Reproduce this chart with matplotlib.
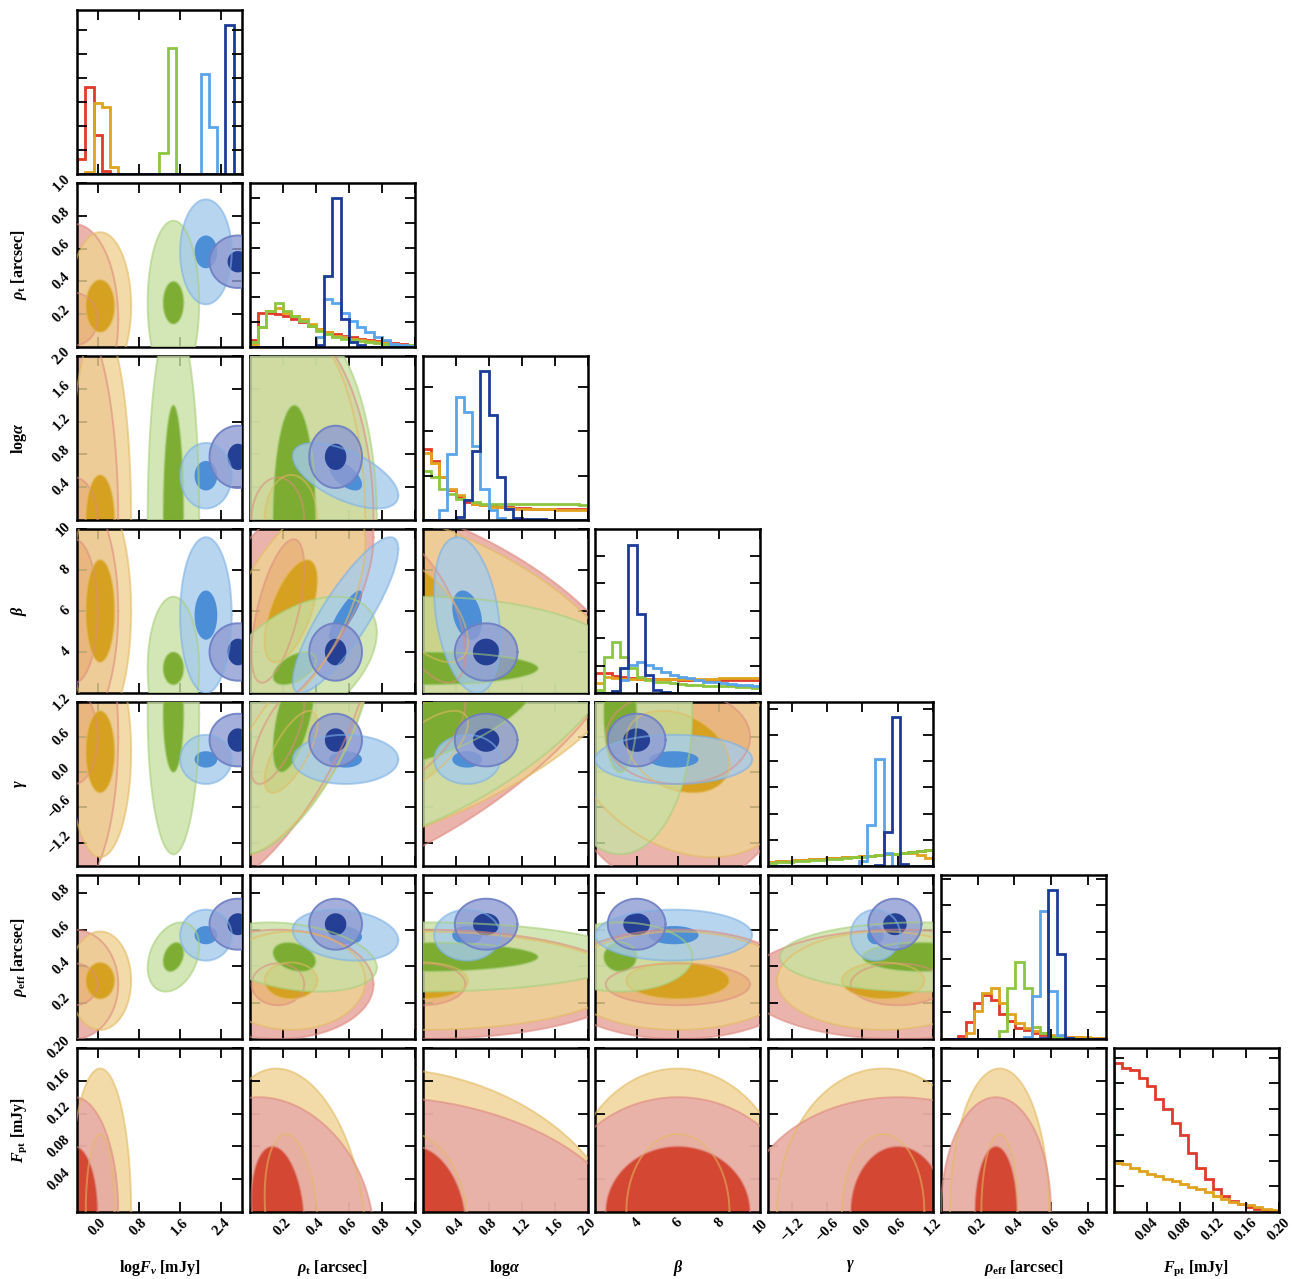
import numpy as np
import matplotlib
matplotlib.use("Agg")
import matplotlib.pyplot as plt
from matplotlib.colors import to_rgb
from matplotlib.ticker import FixedLocator, NullFormatter

plt.rcParams['font.family'] = ['Liberation Serif', 'DejaVu Serif']
plt.rcParams['font.weight'] = 'bold'
plt.rcParams['mathtext.fontset'] = 'custom'
plt.rcParams['mathtext.rm'] = 'Liberation Serif:bold'
plt.rcParams['mathtext.it'] = 'Liberation Serif:italic:bold'
plt.rcParams['mathtext.bf'] = 'Liberation Serif:bold'

# ---------------- data ----------------
param_labels = ['log$F_{\\nu}$ [mJy]', '$\\rho_{\\mathrm{t}}$ [arcsec]', 'log$\\alpha$',
                '$\\beta$', '$\\gamma$', '$\\rho_{\\mathrm{eff}}$ [arcsec]', '$F_{\\mathrm{pt}}$ [mJy]']
param_ranges = [(-0.4, 2.8), (0.0, 1.0), (0.0, 2.0), (2.0, 10.0), (-1.6, 1.2), (0.0, 0.9), (0.0, 0.2)]
param_ticks = [[0.0, 0.8, 1.6, 2.4], [0.2, 0.4, 0.6, 0.8, 1.0], [0.4, 0.8, 1.2, 1.6, 2.0],
               [4, 6, 8, 10], [-1.2, -0.6, 0.0, 0.6, 1.2], [0.2, 0.4, 0.6, 0.8],
               [0.04, 0.08, 0.12, 0.16, 0.20]]
param_ticklabels = [['0.0', '0.8', '1.6', '2.4'], ['0.2', '0.4', '0.6', '0.8', '1.0'],
                    ['0.4', '0.8', '1.2', '1.6', '2.0'], ['4', '6', '8', '10'],
                    ['\u22121.2', '\u22120.6', '0.0', '0.6', '1.2'], ['0.2', '0.4', '0.6', '0.8'],
                    ['0.04', '0.08', '0.12', '0.16', '0.20']]
n_bins = 20
series_names = ['red', 'orange', 'green', 'lblue', 'dblue']

# 1D marginal histograms (height as fraction of the panel), 20 bins across each range
h_logF = dict(
    red=[0.09, 0.53, 0.24, 0.02, 0, 0, 0, 0, 0, 0, 0, 0, 0, 0, 0, 0, 0, 0, 0, 0],
    orange=[0, 0.01, 0.43, 0.41, 0.045, 0, 0, 0, 0, 0, 0, 0, 0, 0, 0, 0, 0, 0, 0, 0],
    green=[0, 0, 0, 0, 0, 0, 0, 0, 0, 0, 0.13, 0.77, 0, 0, 0, 0, 0, 0, 0, 0],
    lblue=[0, 0, 0, 0, 0, 0, 0, 0, 0, 0, 0, 0, 0, 0, 0, 0.61, 0.285, 0, 0, 0],
    dblue=[0, 0, 0, 0, 0, 0, 0, 0, 0, 0, 0, 0, 0, 0, 0, 0, 0, 0, 0.91, 0])
h_rhot = dict(
    red=[0.04, 0.21, 0.21, 0.20, 0.19, 0.17, 0.15, 0.13, 0.11, 0.09, 0.08, 0.07, 0.06, 0.05, 0.04, 0.035, 0.03, 0.025, 0.02, 0.015],
    orange=[0.02, 0.12, 0.22, 0.24, 0.21, 0.19, 0.17, 0.14, 0.11, 0.09, 0.07, 0.06, 0.05, 0.04, 0.035, 0.03, 0.025, 0.02, 0.015, 0.01],
    green=[0.03, 0.12, 0.22, 0.27, 0.22, 0.19, 0.16, 0.13, 0.10, 0.08, 0.06, 0.05, 0.04, 0.035, 0.03, 0.025, 0.02, 0.015, 0.01, 0.01],
    lblue=[0, 0, 0, 0, 0, 0, 0, 0, 0.06, 0.29, 0.27, 0.21, 0.16, 0.12, 0.09, 0.06, 0.04, 0.02, 0.01, 0.005],
    dblue=[0, 0, 0, 0, 0, 0, 0, 0, 0.01, 0.43, 0.91, 0.17, 0.03, 0.01, 0, 0, 0, 0, 0, 0])
h_logalpha = dict(
    red=[0.43, 0.36, 0.26, 0.18, 0.14, 0.11, 0.10, 0.09, 0.085, 0.08, 0.08, 0.075, 0.075, 0.07, 0.07, 0.07, 0.07, 0.07, 0.07, 0.07],
    orange=[0.41, 0.35, 0.26, 0.19, 0.15, 0.12, 0.10, 0.09, 0.08, 0.08, 0.075, 0.07, 0.07, 0.065, 0.065, 0.065, 0.06, 0.06, 0.06, 0.06],
    green=[0.30, 0.26, 0.19, 0.16, 0.13, 0.12, 0.11, 0.10, 0.10, 0.10, 0.10, 0.10, 0.10, 0.10, 0.10, 0.10, 0.095, 0.095, 0.095, 0.09],
    lblue=[0, 0, 0.06, 0.40, 0.75, 0.66, 0.45, 0.19, 0.06, 0.01, 0, 0, 0, 0, 0, 0, 0, 0, 0, 0],
    dblue=[0, 0, 0, 0, 0.02, 0.12, 0.42, 0.91, 0.64, 0.26, 0.07, 0.015, 0.005, 0.005, 0.005, 0, 0, 0, 0, 0])
h_beta = dict(
    red=[0.12, 0.12, 0.105, 0.095, 0.09, 0.088, 0.086, 0.085, 0.084, 0.083, 0.082, 0.082, 0.081, 0.081, 0.08, 0.08, 0.08, 0.08, 0.08, 0.08],
    orange=[0.06, 0.095, 0.09, 0.088, 0.086, 0.085, 0.085, 0.085, 0.085, 0.085, 0.085, 0.085, 0.086, 0.087, 0.088, 0.089, 0.09, 0.09, 0.092, 0.094],
    green=[0.02, 0.22, 0.31, 0.22, 0.15, 0.10, 0.08, 0.07, 0.065, 0.06, 0.055, 0.05, 0.05, 0.045, 0.045, 0.04, 0.04, 0.035, 0.035, 0.03],
    lblue=[0, 0, 0, 0.08, 0.17, 0.19, 0.17, 0.15, 0.13, 0.11, 0.10, 0.09, 0.08, 0.07, 0.065, 0.06, 0.055, 0.05, 0.05, 0.045],
    dblue=[0, 0, 0.01, 0.15, 0.90, 0.48, 0.11, 0.02, 0.005, 0, 0, 0, 0, 0, 0, 0, 0, 0, 0, 0])
h_gamma = dict(
    red=[0.027, 0.029, 0.033, 0.035, 0.037, 0.041, 0.043, 0.047, 0.05, 0.052, 0.057, 0.061, 0.063, 0.068, 0.073, 0.075, 0.081, 0.085, 0.09, 0.10],
    orange=[0.025, 0.028, 0.03, 0.034, 0.036, 0.04, 0.044, 0.046, 0.05, 0.055, 0.057, 0.061, 0.064, 0.067, 0.071, 0.074, 0.078, 0.08, 0.07, 0.047],
    green=[0.02, 0.022, 0.026, 0.028, 0.031, 0.034, 0.037, 0.042, 0.045, 0.05, 0.055, 0.057, 0.062, 0.066, 0.071, 0.074, 0.08, 0.086, 0.09, 0.10],
    lblue=[0, 0, 0, 0, 0, 0, 0, 0, 0, 0, 0, 0.03, 0.25, 0.65, 0.08, 0, 0, 0, 0, 0],
    dblue=[0, 0, 0, 0, 0, 0, 0, 0, 0, 0, 0, 0, 0, 0.005, 0.21, 0.91, 0.01, 0, 0, 0])
h_rhoeff = dict(
    red=[0, 0, 0.02, 0.105, 0.22, 0.27, 0.24, 0.155, 0.11, 0.065, 0.055, 0.035, 0.025, 0.02, 0.015, 0.012, 0.01, 0.008, 0.006, 0.005],
    orange=[0, 0, 0, 0.035, 0.17, 0.28, 0.31, 0.22, 0.15, 0.095, 0.065, 0.05, 0.035, 0.025, 0.02, 0.015, 0.012, 0.01, 0.008, 0.006],
    green=[0, 0, 0, 0, 0, 0, 0, 0.05, 0.31, 0.47, 0.31, 0.075, 0.035, 0.015, 0.005, 0, 0, 0, 0, 0],
    lblue=[0, 0, 0, 0, 0, 0, 0, 0, 0, 0, 0.01, 0.26, 0.78, 0.29, 0.025, 0.005, 0, 0, 0, 0],
    dblue=[0, 0, 0, 0, 0, 0, 0, 0, 0, 0, 0, 0, 0.005, 0.91, 0.52, 0.005, 0, 0, 0, 0])
h_fpt = dict(
    red=[0.91, 0.88, 0.865, 0.82, 0.77, 0.69, 0.63, 0.54, 0.47, 0.36, 0.27, 0.20, 0.14, 0.10, 0.07, 0.05, 0.03, 0.02, 0.01, 0.006],
    orange=[0.30, 0.29, 0.27, 0.25, 0.23, 0.22, 0.20, 0.19, 0.17, 0.15, 0.14, 0.12, 0.10, 0.08, 0.06, 0.05, 0.04, 0.03, 0.02, 0.01])
hists = [h_logF, h_rhot, h_logalpha, h_beta, h_gamma, h_rhoeff, h_fpt]

# 2D credible regions: centre, inner (dark) half-width, outer (light) half-width per parameter
red_center = [-0.45, 0.17, 0.0, 6.0, 0.6, 0.30, 0.0]
red_inner = [0.45, 0.16, 0.52, 3.5, 0.8, 0.115, 0.08]
red_outer = [0.85, 0.58, 2.5, 6.0, 2.6, 0.30, 0.14]
orange_center = [0.05, 0.25, 0.0, 6.0, 0.35, 0.32, 0.0]
orange_inner = [0.28, 0.16, 0.55, 2.5, 0.7, 0.10, 0.095]
orange_outer = [0.60, 0.45, 2.4, 5.5, 1.8, 0.27, 0.175]
green_center = [1.47, 0.27, 0.0, 3.2, 1.0, 0.45, None]
green_inner = [0.20, 0.13, 1.4, 0.8, 1.0, 0.08, None]
green_outer = [0.50, 0.50, 2.5, 3.5, 2.4, 0.19, None]
lblue_center = [2.10, 0.58, 0.54, 5.8, 0.22, 0.57, None]
lblue_inner = [0.22, 0.10, 0.18, 1.2, 0.14, 0.05, None]
lblue_outer = [0.50, 0.32, 0.40, 3.8, 0.42, 0.14, None]
dblue_center = [2.72, 0.52, 0.77, 4.0, 0.55, 0.63, None]
dblue_inner = [0.20, 0.065, 0.16, 0.65, 0.20, 0.06, None]
dblue_outer = [0.55, 0.16, 0.38, 1.4, 0.45, 0.14, None]
# correlations between parameter pairs (index pairs)
red_corr = {(1, 6): -0.2, (2, 6): -0.2, (1, 4): 0.7, (2, 4): 0.7, (1, 3): 0.6, (2, 3): -0.6}
orange_corr = {(1, 6): -0.2, (2, 6): -0.2, (1, 4): 0.7, (2, 4): 0.7, (3, 4): -0.3,
               (1, 3): 0.6, (2, 3): -0.6}
green_corr = {(0, 5): 0.3, (1, 3): 0.5, (1, 5): -0.3, (1, 4): 0.6, (2, 4): 0.6}
lblue_corr = {(1, 2): -0.6, (1, 3): 0.85, (1, 5): -0.2, (2, 3): -0.3}
dblue_corr = {}

regions = dict(
    red=(red_center, red_inner, red_outer, red_corr),
    orange=(orange_center, orange_inner, orange_outer, orange_corr),
    green=(green_center, green_inner, green_outer, green_corr),
    lblue=(lblue_center, lblue_inner, lblue_outer, lblue_corr),
    dblue=(dblue_center, dblue_inner, dblue_outer, dblue_corr))

# ---------------- styles ----------------
LIGHT_ALPHA = 0.8


def through_alpha(target, alpha):
    t = np.array(to_rgb(target))
    return tuple(np.clip((t - (1 - alpha)) / alpha, 0, 1))


styles = dict(
    red=dict(light='#eab4ad', dark='#d4442e', edge='#df8a80', hist='#e03a2b'),
    orange=dict(light='#f2dca9', dark='#d6a01d', edge='#e3bb62', hist='#e0a21f'),
    green=dict(light='#d3e6b6', dark='#7bab2f', edge='#a8cf7b', hist='#8cc640'),
    lblue=dict(light='#b7d5f0', dark='#4a8dd7', edge='#7db1e5', hist='#5ba4ea'),
    dblue=dict(light='#a5afdb', dark='#203c92', edge='#6d7ec3', hist='#1c3b98'),
)

hist_tick_step = [0.146, 0.151, 0.27, 0.167, 0.16, 0.163, 0.157]

W, H = 1294, 1279
fig = plt.figure(figsize=(W / 100, H / 100), dpi=100)

n = len(param_labels)
col_left = [77 + 172.8 * k for k in range(n)]
row_top = [10 + 173.0 * k for k in range(n)]
pw, ph = 165, 164


def ellipse(cx, cy, ax_, ay_, c, npts=240):
    t = np.linspace(0, 2 * np.pi, npts)
    x = cx + ax_ * np.cos(t)
    y = cy + ay_ * (c * np.cos(t) + np.sqrt(1 - c * c) * np.sin(t))
    return x, y


def style_axis(ax):
    ax.tick_params(direction='in', length=7, width=1.3, top=True, right=True,
                   labelsize=10.5, pad=3)
    for s in ax.spines.values():
        s.set_linewidth(1.8)


for i in range(n):
    for j in range(i + 1):
        x0 = col_left[j]
        y0 = row_top[i]
        ax = fig.add_axes([x0 / W, 1 - (y0 + ph) / H, pw / W, ph / H])
        style_axis(ax)
        xr = param_ranges[j]
        if i == j:
            edges = np.linspace(xr[0], xr[1], n_bins + 1)
            for name in series_names:
                if name in hists[i]:
                    ax.stairs(hists[i][name], edges, color=styles[name]['hist'], lw=2.0,
                              baseline=0)
            ax.set_ylim(0, 1)
            step = hist_tick_step[i]
            ax.yaxis.set_major_locator(FixedLocator(np.arange(step, 0.999, step)))
            ax.yaxis.set_major_formatter(NullFormatter())
        else:
            yr = param_ranges[i]
            last_row = (i == n - 1)
            order = series_names if not last_row else ['orange', 'red', 'green', 'lblue', 'dblue']
            outlines = []
            for zi, name in enumerate(order):
                cen, inn, out, corr = regions[name]
                if cen[i] is None or cen[j] is None:
                    continue
                c = corr.get((j, i), 0.0)
                st = styles[name]
                la = 0.95 if (last_row and name == 'red') else LIGHT_ALPHA
                xo, yo = ellipse(cen[j], cen[i], out[j], out[i], c)
                xi, yi = ellipse(cen[j], cen[i], inn[j], inn[i], c)
                ax.fill(xo, yo, color=through_alpha(st['light'], la),
                        alpha=la, lw=0, zorder=1 + zi)
                ax.fill(xi, yi, color=st['dark'], alpha=0.97, lw=0, zorder=1 + zi + 0.5)
                outlines.append((xo, yo, xi, yi, st['edge'], name))
            for xo, yo, xi, yi, ec, name in outlines:
                a = 0.9 if name == 'dblue' else 0.6
                ax.plot(xo, yo, color=ec, lw=1.4, alpha=a, zorder=10)
                if name not in ('dblue', 'lblue'):
                    ax.plot(xi, yi, color=ec, lw=1.4, alpha=0.55, zorder=10)
            ax.set_ylim(*yr)
            ax.set_yticks(param_ticks[i])
            if j == 0:
                ax.set_yticklabels(param_ticklabels[i], rotation=45, va='center', ha='right')
                ax.set_ylabel(param_labels[i], fontsize=11.5, fontweight='bold')
                ax.yaxis.set_label_coords(-0.29, 0.5)
            else:
                ax.yaxis.set_major_formatter(NullFormatter())
        ax.set_xlim(*xr)
        ax.set_xticks(param_ticks[j])
        if i == n - 1:
            ax.set_xticklabels(param_ticklabels[j], rotation=45, ha='center', va='top')
            ax.set_xlabel(param_labels[j], fontsize=11.5, fontweight='bold')
            ax.xaxis.set_label_coords(0.5, -0.28)
        else:
            ax.xaxis.set_major_formatter(NullFormatter())
        if i == j and i == 0:
            ax.yaxis.set_major_formatter(NullFormatter())

fig.savefig('out.png', dpi=100)
